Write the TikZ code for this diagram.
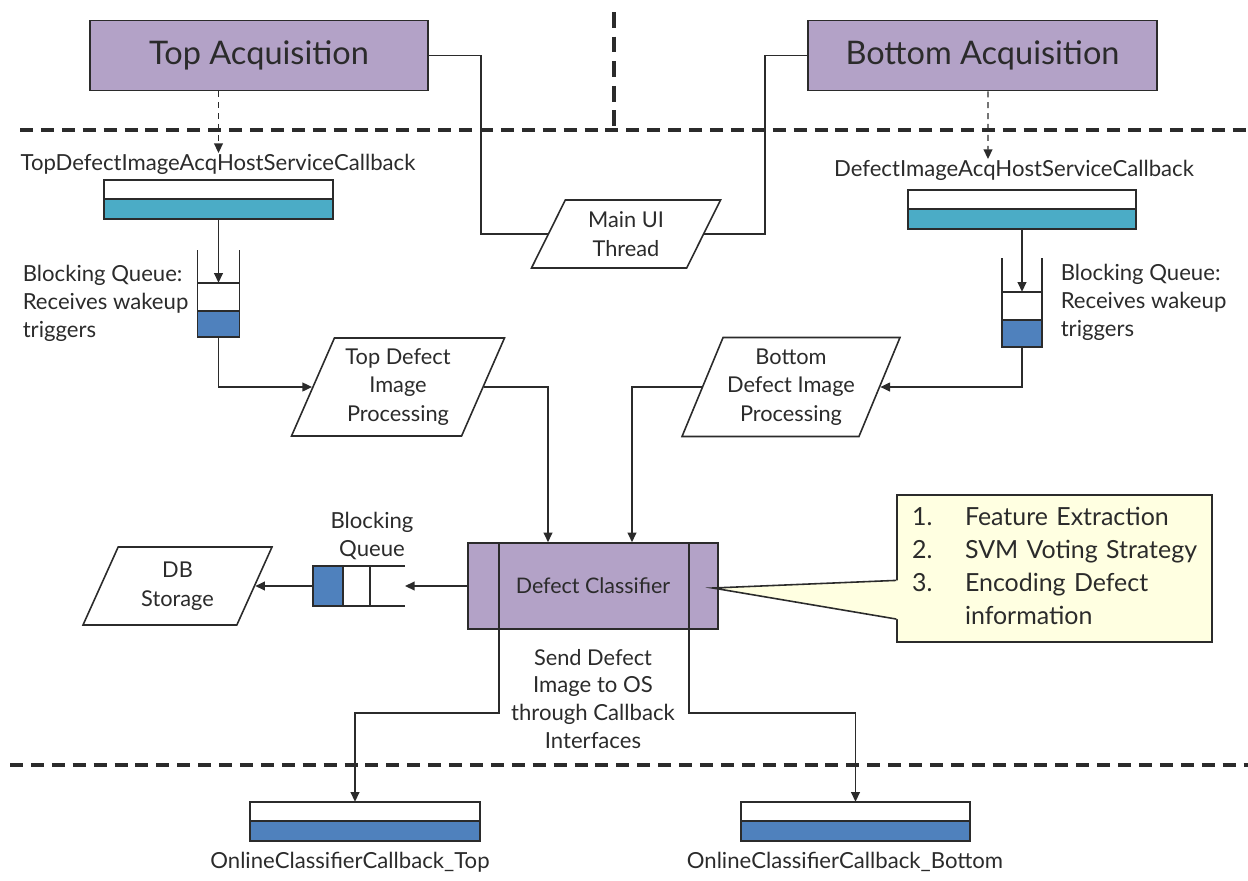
\documentclass[tikz,border=0pt]{standalone}
\usepackage{fontspec}
\setmainfont{Lato}
\usepackage{tikz}
\usetikzlibrary{positioning,arrows.meta,shapes.geometric,calc}

\definecolor{acqpurple}{HTML}{B3A2C7}
\definecolor{cbteal}{HTML}{4BACC6}
\definecolor{qblue}{HTML}{4F81BD}
\definecolor{notefill}{HTML}{FFFFE1}
\definecolor{inkgray}{HTML}{2B2B2B}

\def\px{0.02cm}

\begin{document}
\begin{tikzpicture}[x=0.02cm, y=-0.02cm, color=inkgray, line width=0.9pt,
  >={Triangle[length=5.5pt,width=5pt]},
  acqbox/.style={draw, fill=acqpurple, minimum height=70*\px, font=\fontsize{18.5}{22}\selectfont},
  classbox/.style={draw, fill=acqpurple, minimum width=250*\px, minimum height=86*\px, font=\fontsize{12.2}{14}\selectfont},
  procbox/.style={draw, fill=white, trapezium, trapezium stretches body=true, inner sep=0pt, align=center, font=\fontsize{12.4}{16.4}\selectfont},
  barcell/.style={draw, fill=white, minimum height=19.5*\px, inner sep=0pt, outer sep=0pt},
  qcell/.style={draw, fill=white, inner sep=0pt, outer sep=0pt},
  lbl/.style={inner sep=0pt, font=\fontsize{12.6}{15.9}\selectfont},
  notebox/.style={draw, fill=notefill, minimum width=315*\px, minimum height=147*\px, text width=5.7cm, inner xsep=0.3cm, align=left, font=\fontsize{14.2}{18.7}\selectfont},
  sepline/.style={line width=2pt, dash pattern=on 7.4pt off 4.5pt},
  trigline/.style={->, line width=0.8pt, dash pattern=on 3.4pt off 2.8pt}]
  \useasboundingbox (0,0) rectangle (1248,880);

  % layer separators
  \draw[sepline] (20,130) -- (1248,130);
  \draw[sepline] (10,765) -- (1248,765);
  \draw[sepline, dash pattern=on 9pt off 5pt] (614,12) -- (614,128);

  % acquisition threads
  \node[acqbox, minimum width=338*\px] (topacq) at (259,55.5) {Top Acquisition};
  \node[acqbox, minimum width=349*\px] (botacq) at (982.5,55.5) {Bottom Acquisition};

  % host service callbacks
  \node[lbl] (topcbl) at (218,164) {TopDefectImageAcqHostServiceCallback};
  \node[barcell, minimum width=229*\px] (topcbw) at (218.5,189.5) {};
  \node[barcell, fill=cbteal, minimum width=229*\px, below=0pt of topcbw] (topcbb) {};
  \node[lbl] (botcbl) at (1014,170) {DefectImageAcqHostServiceCallback};
  \node[barcell, minimum width=228*\px] (botcbw) at (1022,199.5) {};
  \node[barcell, fill=cbteal, minimum width=228*\px, below=0pt of botcbw] (botcbb) {};
  \draw[trigline] (topacq.south -| topcbw.north) -- (topcbw.north |- topcbl.north);
  \draw[trigline] ($(botacq.south)+(5.5,0)$) -- ($(botcbl.north)+(-26,0)$);

  % wakeup queues
  \node[qcell, minimum width=42*\px, minimum height=28*\px, below=1.28cm of topcbb] (topqw) {};
  \node[qcell, fill=qblue, minimum width=42*\px, minimum height=26*\px, below=0pt of topqw] (topqb) {};
  \draw (topqw.north west) -- ++(0,-33);
  \draw (topqw.north east) -- ++(0,-33);
  \draw[->] (topcbb.south) -- (topqw.north);
  \node[lbl, align=left, anchor=west] (topql) at (22,303) {Blocking Queue:\\Receives wakeup\\triggers};

  \node[qcell, minimum width=40*\px, minimum height=28*\px, below=1.26cm of botcbb] (botqw) {};
  \node[qcell, fill=qblue, minimum width=40*\px, minimum height=27*\px, below=0pt of botqw] (botqb) {};
  \draw (botqw.north west) -- ++(0,-34);
  \draw (botqw.north east) -- ++(0,-34);
  \draw[->] (botcbb.south) -- (botqw.north);
  \node[lbl, align=left, anchor=west] (botql) at (1060,302) {Blocking Queue:\\Receives wakeup\\triggers};

  % processing threads (slant is set from the text height)
  \node[procbox, trapezium left angle=53, trapezium right angle=127,
        minimum width=189*\px, minimum height=68*\px] (mainui) at (626,234) {Main UI\\Thread};
  \node[procbox, trapezium left angle=61, trapezium right angle=119,
        minimum width=213*\px, minimum height=98*\px] (topproc) at (398,387) {Top Defect\\Image\\Processing};
  \node[procbox, trapezium left angle=62, trapezium right angle=118,
        minimum width=218*\px, minimum height=99*\px] (botproc) at (791,387) {Bottom\\Defect Image\\Processing};
  \draw (topacq.east) -- ++(52,0) |- (mainui.west);
  \draw (botacq.west) -- ++(-42,0) |- (mainui.east);
  \draw[->] (topqb.south) |- (topproc.west);
  \draw[->] (botqb.south) |- (botproc.east);

  % classifier
  \node[classbox] (classifier) at (593,586) {Defect Classifier};
  \draw ($(classifier.north west)+(32,0)$) -- ($(classifier.south west)+(32,0)$);
  \draw ($(classifier.north east)+(-30,0)$) -- ($(classifier.south east)+(-30,0)$);
  \draw[->] (topproc.east) -| ($(classifier.north)+(-45,0)$);
  \draw[->] (botproc.west) -| ($(classifier.north)+(39,0)$);

  % storage queue
  \node[qcell, fill=qblue, minimum width=30*\px, minimum height=40*\px] (dbqb) at (328,586) {};
  \node[qcell, minimum width=27*\px, minimum height=40*\px, right=0pt of dbqb] (dbqw) {};
  \draw (dbqw.north east) -- ++(35,0);
  \draw (dbqw.south east) -- ++(35,0);
  \coordinate (dbqin) at ($(dbqw.east)+(35,0)$);
  \node[lbl, align=center] (dbql) at (372,536) {Blocking\\Queue};
  \node[procbox, trapezium left angle=54, trapezium right angle=126,
        minimum width=189*\px, minimum height=78*\px] (dbstore) at (177.5,586) {DB\\Storage};
  \draw[->] (classifier.west) -- (dbqin);
  \draw[->] (dbqb.west) -- (dbstore.east);

  % classifier steps
  \node[notebox] (notes) at (1054.5,568.5) {\begin{tabular}{@{}p{1.06cm}@{}l@{}}
    1. & Feature Extraction\\
    2. & SVM Voting Strategy\\
    3. & Encoding Defect\\
       & information
  \end{tabular}};
  \coordinate (notetip) at ($(classifier.east)+(-6,2)$);
  \coordinate (pa) at ($(notes.north west)!0.58!(notes.south west)$);
  \coordinate (pb) at ($(notes.north west)!0.84!(notes.south west)$);
  \fill[notefill] (pa) -- (notetip) -- (pb) -- ($(pb)+(2,0)$) -- ($(pa)+(2,0)$) -- cycle;
  \draw (pa) -- (notetip) -- (pb);

  % online classifier callbacks
  \node[lbl, align=center] (sendl) at (593,699) {\fontsize{12.4}{14.7}\selectfont Send Defect\\Image to OS\\through Callback\\Interfaces};
  \node[barcell, minimum width=230*\px] (onltw) at (365,811.5) {};
  \node[barcell, fill=qblue, minimum width=230*\px, below=0pt of onltw] (onltb) {};
  \node[barcell, minimum width=229*\px] (onlbw) at (855.5,811.5) {};
  \node[barcell, fill=qblue, minimum width=229*\px, below=0pt of onlbw] (onlbb) {};
  \node[lbl] (onltl) at (350,862) {OnlineClassifierCallback\_Top};
  \node[lbl] (onlbl) at (845,862) {OnlineClassifierCallback\_Bottom};
  \draw[->] ($(classifier.south west)+(32,0)$) -- ++(0,83) -| ($(onltw.north)+(-10,0)$);
  \draw[->] ($(classifier.south east)+(-30,0)$) -- ++(0,83) -| (onlbw.north);
\end{tikzpicture}
\end{document}
